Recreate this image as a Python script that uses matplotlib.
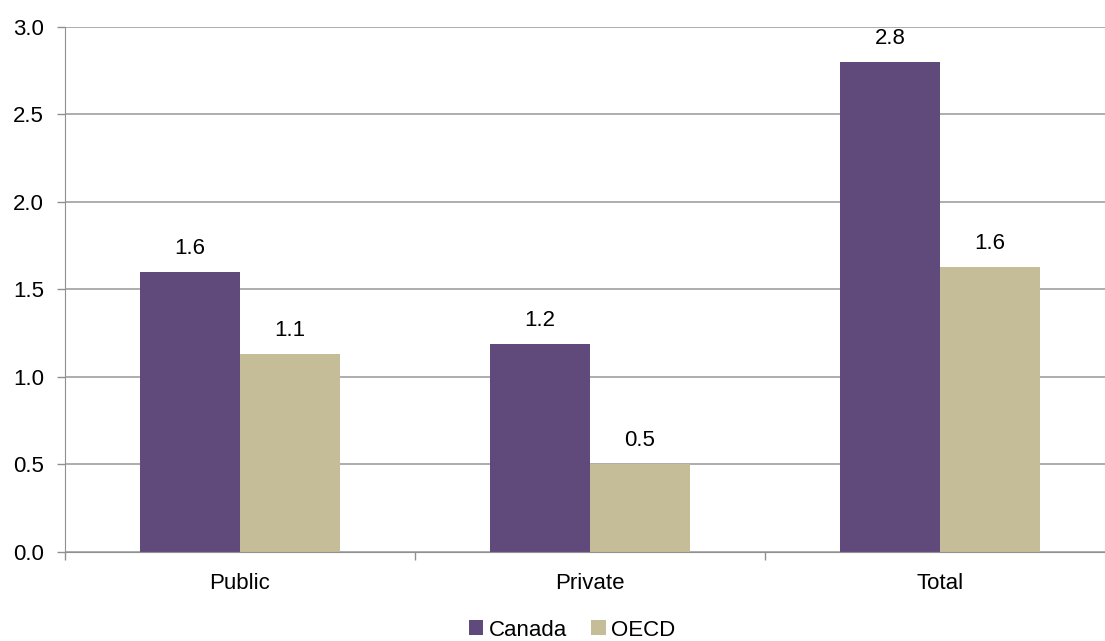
import matplotlib
matplotlib.use('Agg')
import matplotlib.pyplot as plt
import numpy as np

##-Data
categories = ['Public', 'Private', 'Total']
canada = [1.6, 1.19, 2.8]
oecd = [1.13, 0.5, 1.63]
canada_labels = ['1.6', '1.2', '2.8']
oecd_labels = ['1.1', '0.5', '1.6']
y_ticks = [0.0, 0.5, 1.0, 1.5, 2.0, 2.5, 3.0]

##-Style
plt.rcParams['font.family'] = ['Liberation Sans', 'DejaVu Sans']
col_canada = '#604A7B'
col_oecd = '#C4BD97'
fs = 16

fig = plt.figure(figsize=(11.05, 6.41), dpi=100)
# plot area runs past the right edge of the picture, as in the original
ax = fig.add_axes([0.0588, 0.139, 0.9502, 0.819])

x = np.arange(len(categories))
w = 0.286

b1 = ax.bar(x - w / 2, canada, w, color=col_canada, label='Canada', zorder=2)
b2 = ax.bar(x + w / 2, oecd, w, color=col_oecd, label='OECD', zorder=2)

for bars, labs in ((b1, canada_labels), (b2, oecd_labels)):
    for r, lb in zip(bars, labs):
        ax.text(r.get_x() + r.get_width() / 2, r.get_height() + 0.075, lb,
                ha='center', va='bottom', fontsize=fs)

ax.set_xlim(-0.5, 2.5)
ax.set_ylim(0, 3.0)
ax.set_yticks(y_ticks)
ax.set_yticklabels([f'{v:.1f}' for v in y_ticks], fontsize=fs)
ax.yaxis.grid(True, color='#A0A0A0', linewidth=1.2, zorder=0)
ax.set_axisbelow(True)

# category labels centred, ticks at boundaries
ax.set_xticks([-0.5, 0.5, 1.5, 2.5])
ax.set_xticklabels([])
ax.set_xticks(x, minor=True)
ax.set_xticklabels(categories, minor=True, fontsize=fs)
ax.tick_params(axis='x', which='minor', length=0, pad=15)
ax.tick_params(axis='x', which='major', length=6, color='#909090', width=1)
ax.tick_params(axis='y', length=6, color='#909090', width=1, pad=9)

for s in ('top', 'right'):
    ax.spines[s].set_visible(False)
ax.spines['left'].set_color('#909090')
ax.spines['bottom'].set_color('#909090')

ax.legend(loc='upper center', bbox_to_anchor=(0.483, -0.108), ncol=2, frameon=False,
          fontsize=fs, handlelength=0.65, handleheight=0.65, handletextpad=0.25,
          columnspacing=1.1, borderpad=0)

fig.savefig('out.png', dpi=100)
